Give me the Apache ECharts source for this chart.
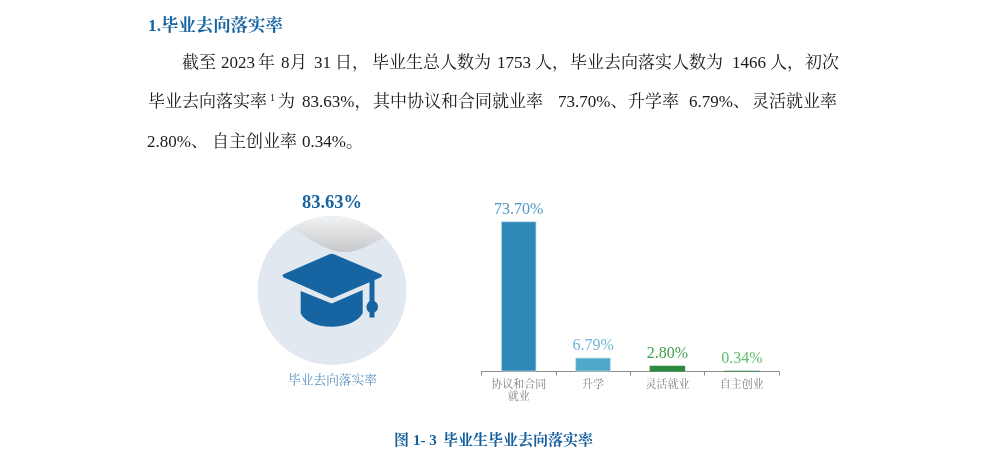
<!DOCTYPE html>
<html><head><meta charset="utf-8">
<style>html,body{margin:0;padding:0;background:#fff}#c{width:987px;height:465px}</style>
<script src="https://cdn.jsdelivr.net/npm/echarts@6/dist/echarts.min.js"></script>
</head><body><div id="c"></div>
<script>
const categories = ['协议和合同\n就业', '升学', '灵活就业', '自主创业'];
const rates = [73.70, 6.79, 2.80, 0.34];
const barColors = ['#2e88b8', '#50a8c8', '#2b8a3e', '#2b8a3e'];
const labelColors = ['#5197c2', '#6fb6d6', '#3f9e4c', '#62c070'];
const overallRate = '83.63%';
const overallLabel = '毕业去向落实率';
const heading = '1.毕业去向落实率';
const caption = ['图','1- 3','毕业生毕业去向落实率'];
const line1 = ['截至','2023','年','8','月','31','日，','毕业生总人数为','1753','人，','毕业去向落实人数为','1466','人，','初次'];
const line2 = ['毕业去向落实率','1','为','83.63%，','其中协议和合同就业率','73.70%、','升学率','6.79%、','灵活就业率'];
const line3 = ['2.80%、','自主创业率','0.34%。'];

const SERIF = '"Liberation Serif","Noto Serif CJK SC","Noto Sans CJK SC",serif';
const blue = '#1764a3';
const xs1 = [182,221,258,281,290,314,335,372,497,535,570,732,770,805];
const xs2 = [148,270,278,302,373,558,628,689,752];
const xs3 = [147,212,302];
const xsCap = [394,413,443];
const txt = (x,y,text,o={}) => ({type:'text',x,y,silent:true,style:Object.assign({text,fill:'#1a1a1a',fontFamily:SERIF,fontSize:17,
  verticalAlign:'middle',align:'left'},o)});
const reg = (name,d) => echarts.graphic.registerShape(name, echarts.graphic.extendPath(d,{}));
reg('swoosh','M291 229 C 311 238 325 252 345 252 C 359 252 371 244 384 237 A 74.5 74.5 0 0 0 291 229 Z');
reg('capTop','M329.5 254.2 Q331.7 253.3 334 254.2 L380.5 274 Q383.5 275.7 380.5 277.5 L334 297.5 Q331.7 298.5 329.5 297.5 L284 277.5 Q281 275.7 284 274 Z');
reg('capBody','M300.7 291 L331.7 303.5 L362.7 290 L362.7 313.3 C 358 322 345 326.7 331.7 326.7 C 316 326.7 304 321 300.7 313.3 Z');
reg('tassel','M369.5 281.5 L374.5 279.5 L374.5 301 C 377.5 303 378 305 378 307 C 378 309.5 376.5 311.5 374.5 312.5 L374.5 317.5 L369.5 317.5 L369.5 312.5 C 367.5 311.5 366.5 309.5 366.5 307 C 366.5 305 367.5 303 369.5 301 Z');
const graphic = [];
graphic.push(txt(148,26.5,heading,{fill:blue,fontWeight:'bold',fontSize:17.4}));
line1.forEach((s,i)=>graphic.push(txt(xs1[i],64,s)));
line2.forEach((s,i)=>graphic.push(i===1?txt(xs2[i],98,s,{fontSize:10}):txt(xs2[i],103,s)));
line3.forEach((s,i)=>graphic.push(txt(xs3[i],143,s)));
// badge
graphic.push({type:'circle',silent:true,shape:{cx:332,cy:290.5,r:74.5},style:{fill:'#e1e8ef'}});
graphic.push({type:'swoosh',silent:true,
  style:{fill:new echarts.graphic.LinearGradient(0,0,0,1,[{offset:0,color:'#f1f2f3'},{offset:1,color:'#c6c8ca'}])}});
graphic.push({type:'capTop',silent:true,style:{fill:blue}});
graphic.push({type:'capBody',silent:true,style:{fill:blue}});
graphic.push({type:'tassel',silent:true,style:{fill:blue}});
graphic.push(txt(332,203,overallRate,{fill:blue,fontWeight:'bold',fontSize:18.5,align:'center'}));
graphic.push(txt(332.5,380.5,overallLabel,{fill:'#5b93c5',fontSize:12.7,align:'center'}));
caption.forEach((s,i)=>graphic.push(txt(xsCap[i],441,s,{fill:'#14609f',fontWeight:'bold',fontSize:15})));

const chart = echarts.init(document.getElementById('c'),null,{renderer:'canvas'});
chart.setOption({
  animation:false,
  grid:{left:481.5,top:208.5,width:297.5,height:163},
  xAxis:{type:'category',data:categories,
    axisLine:{lineStyle:{color:'#8c8c8c',width:1}},
    axisTick:{show:true,length:4,lineStyle:{color:'#8c8c8c'}},
    axisLabel:{color:'#7f7f7f',fontSize:11,lineHeight:12.5,margin:7,interval:0,fontFamily:SERIF}},
  yAxis:{type:'value',show:false,min:0,max:80,splitLine:{show:false}},
  series:[{type:'bar',barWidth:35.5,
    data:rates.map((v,i)=>({value:v,
      itemStyle:{color:barColors[i],borderColor:'#c4dfec',borderWidth:i<2?0.8:0},
      label:{color:labelColors[i]}})),
    label:{show:true,position:'top',distance:4,fontSize:16,fontFamily:SERIF,
      formatter:p=>p.value.toFixed(2)+'%'}}],
  graphic:{elements:graphic}
});
</script></body></html>
